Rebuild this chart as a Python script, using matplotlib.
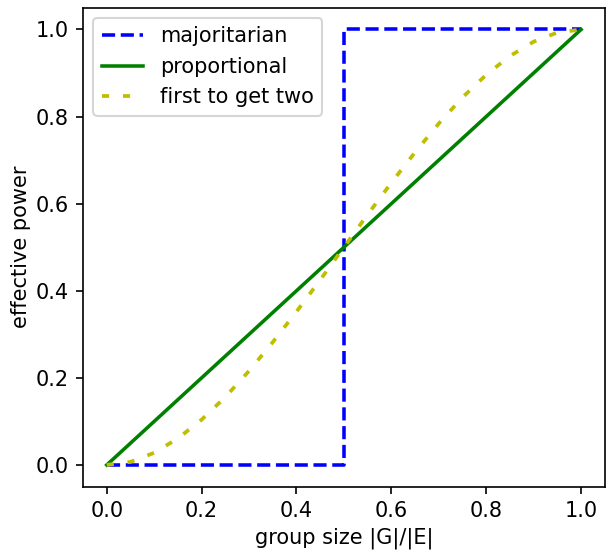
import matplotlib
matplotlib.use("Agg")
import matplotlib.pyplot as plt

# group size |G|/|E|
size = [0.0, 0.05, 0.1, 0.15, 0.2, 0.25, 0.3, 0.35, 0.4, 0.45, 0.5,
        0.55, 0.6, 0.65, 0.7, 0.75, 0.8, 0.85, 0.9, 0.95, 1.0]

maj_x = [0.0, 0.5, 0.5, 1.0]
maj_y = [0.0, 0.0, 1.0, 1.0]

prop_x = [0.0, 1.0]
prop_y = [0.0, 1.0]

# first to get two
two_y = [0.0, 0.007, 0.028, 0.061, 0.104, 0.156, 0.216, 0.282, 0.352, 0.425, 0.5,
         0.575, 0.648, 0.718, 0.784, 0.844, 0.896, 0.939, 0.972, 0.993, 1.0]

dpi = 150
fig = plt.figure(figsize=(606 / dpi, 550 / dpi), dpi=dpi)
ax = fig.add_axes([0.137, 0.115, 0.861, 0.871])

ax.plot(maj_x, maj_y, "b--", lw=1.7, label="majoritarian")
ax.plot(prop_x, prop_y, "g-", lw=1.7, label="proportional")
ax.plot(size, two_y, "y", lw=1.8, dashes=(1.9, 3.7), label="first to get two")

ax.set_xlabel("group size |G|/|E|", labelpad=3)
ax.set_ylabel("effective power", labelpad=2)
ax.legend(loc="upper left")

fig.savefig("out.png", dpi=dpi)
